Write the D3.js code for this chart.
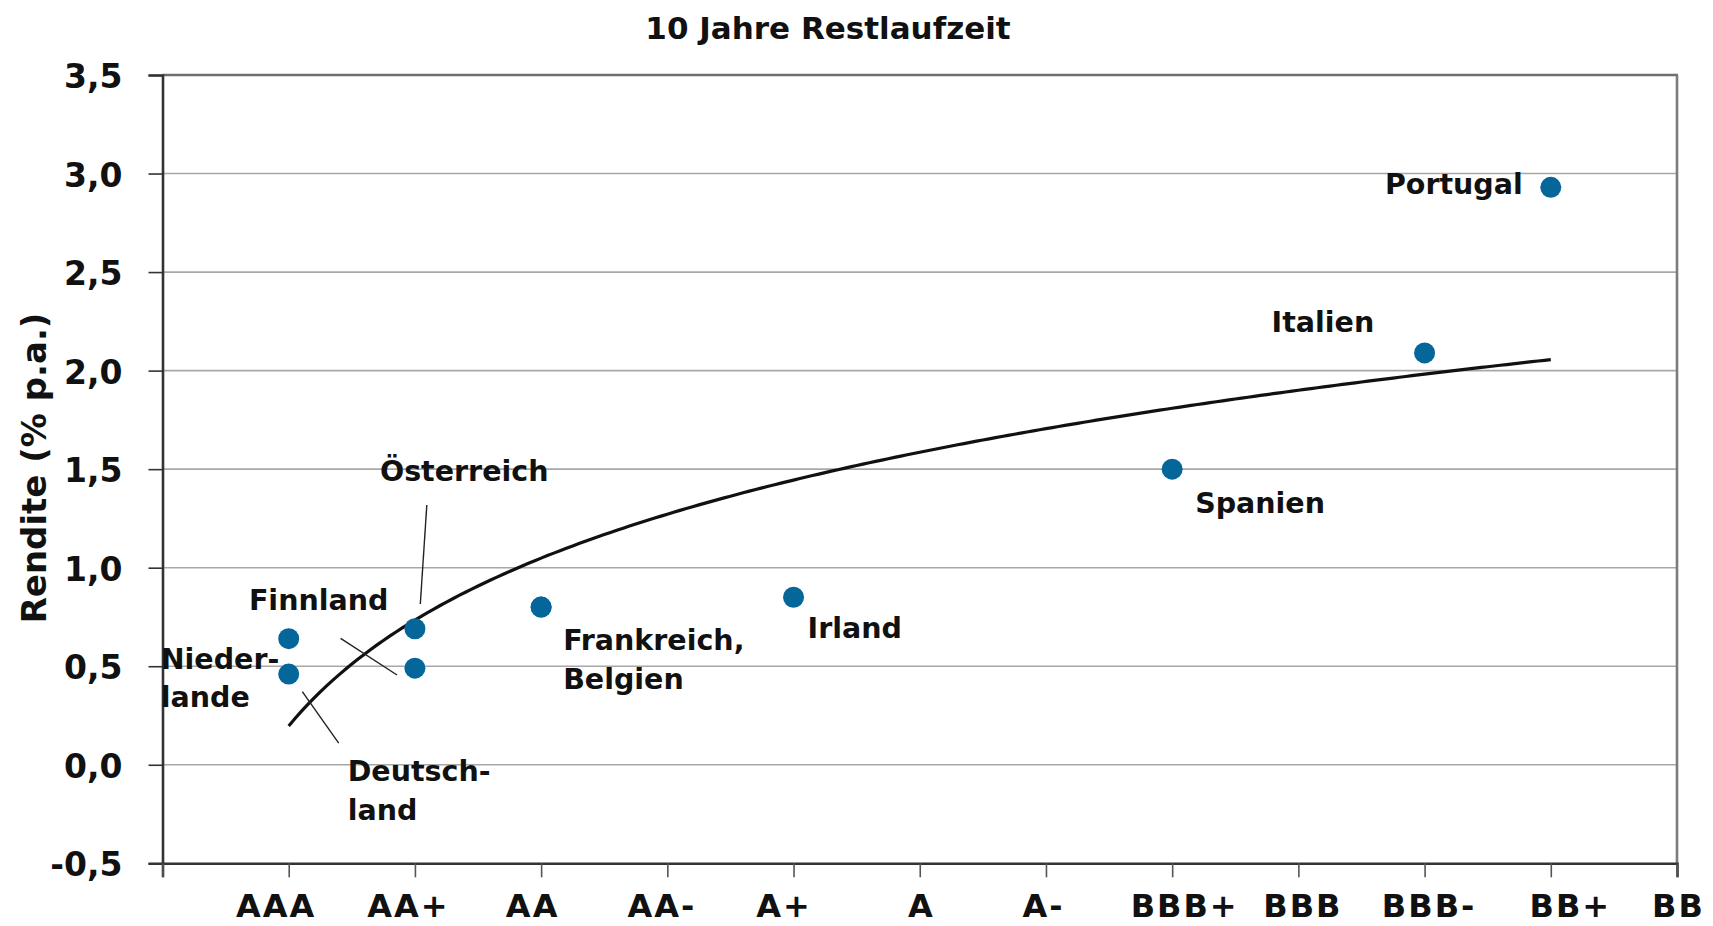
<!DOCTYPE html>
<html>
<head>
<meta charset="utf-8">
<script src="https://cdn.jsdelivr.net/npm/d3@7/dist/d3.min.js"></script>
<style>
  html, body { margin: 0; padding: 0; background: #fff; }
  svg text { font-family: "DejaVu Sans", sans-serif; font-weight: bold; fill: #111; }
</style>
</head>
<body>
<svg id="chart" width="1713" height="926"></svg>
<script>
// ---- data ----
const title = "10 Jahre Restlaufzeit";
const yAxisTitle = "Rendite (% p.a.)";
const ratingLabels = ["AAA", "AA+", "AA", "AA-", "A+", "A", "A-", "BBB+", "BBB", "BBB-", "BB+", "BB"];
const yTicks = [-0.5, 0.0, 0.5, 1.0, 1.5, 2.0, 2.5, 3.0, 3.5];
const countries = ["Niederlande", "Deutschland", "Finnland", "Österreich", "Frankreich", "Belgien", "Irland", "Spanien", "Italien", "Portugal"];
const countryRatings = ["AAA", "AAA", "AA+", "AA+", "AA", "AA", "A+", "BBB+", "BBB-", "BB+"];
const yields = [0.64, 0.46, 0.49, 0.69, 0.80, 0.80, 0.85, 1.50, 2.09, 2.93];
const labelLines = [["Nieder-", "lande"], ["Deutsch-", "land"], ["Finnland"], ["Österreich"], ["Frankreich,", "Belgien"], [], ["Irland"], ["Spanien"], ["Italien"], ["Portugal"]];

// ---- layout (pixel offsets relative to each point) ----
const labelLayout = [
  { dx: -128, dy: 30, anchor: "start" },
  { dx: 59, dy: 107, anchor: "start", leader: [13.6, 17.6, 50, 69] },
  { dx: -166, dy: -58, anchor: "start", leader: [-74.3, -29.9, -17.9, 6.8] },
  { dx: -35, dy: -148, anchor: "start", leader: [11.9, -123.8, 5.4, -24.8] },
  { dx: 22, dy: 43, anchor: "start" },
  null,
  { dx: 14, dy: 41, anchor: "start" },
  { dx: 23, dy: 44, anchor: "start" },
  { dx: -153, dy: -21, anchor: "start" },
  { dx: -28, dy: 7, anchor: "end" }
];
const xLabelNudge = [-13, -7, -9, -6, -10, 1, -3, 12, 4, 4, 19, 1];

const svg = d3.select("#chart");
const L = 162.5, R = 1677, T = 75, B = 863.3;

const x = d3.scaleLinear().domain([0, ratingLabels.length]).range([L, R]);
const y = d3.scaleLinear().domain([-0.5, 3.5]).range([B, T]);
const ratingIndex = r => ratingLabels.indexOf(r) + 1;

// title
svg.append("text").attr("x", 828).attr("y", 39).attr("text-anchor", "middle")
  .style("font-size", "31px").text(title);

// y axis title
svg.append("text").attr("transform", "translate(46,468) rotate(-90)")
  .attr("text-anchor", "middle").style("font-size", "34px").text(yAxisTitle);

// gridlines
svg.append("g").selectAll("line").data(yTicks.filter(v => v > -0.5 && v < 3.5)).join("line")
  .attr("x1", L).attr("x2", R).attr("y1", d => y(d)).attr("y2", d => y(d))
  .attr("stroke", "#a8a8a8").attr("stroke-width", 1.6);

// top and right border
svg.append("line").attr("x1", L).attr("x2", R + 1).attr("y1", y(3.5)).attr("y2", y(3.5))
  .attr("stroke", "#6e6e6e").attr("stroke-width", 2.6);
svg.append("line").attr("x1", R).attr("x2", R).attr("y1", y(3.5)).attr("y2", B)
  .attr("stroke", "#7c7c7c").attr("stroke-width", 2.6);

// y axis via d3
const yAxis = d3.axisLeft(y).tickValues(yTicks).tickSize(14).tickPadding(26)
  .tickFormat(d => d3.format(".1f")(d).replace(".", ",").replace("−", "-"));
const gy = svg.append("g").attr("transform", `translate(${L},0)`).call(yAxis);
gy.select(".domain").attr("stroke", "#333").attr("stroke-width", 2.6);
gy.selectAll(".tick line").attr("stroke", "#333").attr("stroke-width", 1.6);
gy.selectAll(".tick text").style("font-size", "33px").attr("dy", "0.38em").attr("fill", "#111")
  .style("font-family", "'DejaVu Sans', sans-serif").style("font-weight", "bold");

// x axis via d3
const xAxis = d3.axisBottom(x).tickValues(d3.range(0, ratingLabels.length + 1)).tickSize(14)
  .tickFormat(d => d === 0 ? "" : ratingLabels[d - 1]);
const gx = svg.append("g").attr("transform", `translate(0,${B})`).call(xAxis);
gx.select(".domain").attr("stroke", "#333").attr("stroke-width", 2.6);
gx.selectAll(".tick line").attr("stroke", "#555").attr("stroke-width", 1.6);
gx.selectAll(".tick text")
  .style("font-size", "32px").style("letter-spacing", "2px").attr("fill", "#111")
  .style("font-family", "'DejaVu Sans', sans-serif").style("font-weight", "bold")
  .attr("dy", 0)
  .attr("y", d => d === 0 ? 0 : 54)
  .attr("x", d => d === 0 ? 0 : xLabelNudge[d - 1]);

// logarithmic trend line (least squares on ln(x))
const xs = countryRatings.map(r => Math.log(ratingIndex(r)));
const mx = d3.mean(xs), my = d3.mean(yields);
const slope = d3.sum(xs, (v, i) => (v - mx) * (yields[i] - my)) / d3.sum(xs, v => (v - mx) * (v - mx));
const icpt = my - slope * mx;
const xMin = d3.min(countryRatings, ratingIndex), xMax = d3.max(countryRatings, ratingIndex);
const trendPts = d3.range(0, 201).map(i => xMin + (xMax - xMin) * i / 200);
svg.append("path")
  .attr("d", d3.line().x(d => x(d)).y(d => y(slope * Math.log(d) + icpt))(trendPts))
  .attr("fill", "none").attr("stroke", "#111").attr("stroke-width", 3.2);

// points
svg.append("g").selectAll("circle").data(countries).join("circle")
  .attr("cx", (d, i) => x(ratingIndex(countryRatings[i])))
  .attr("cy", (d, i) => y(yields[i]))
  .attr("r", 10.5).attr("fill", "#046699");

// labels and leader lines
countries.forEach((c, i) => {
  const lay = labelLayout[i];
  if (!lay) return;
  const px = x(ratingIndex(countryRatings[i])), py = y(yields[i]);
  if (lay.leader) {
    const [a, b, cc, dd] = lay.leader;
    svg.append("line").attr("x1", px + a).attr("y1", py + b).attr("x2", px + cc).attr("y2", py + dd)
      .attr("stroke", "#222").attr("stroke-width", 1.4);
  }
  labelLines[i].forEach((t, k) => {
    svg.append("text").attr("x", px + lay.dx).attr("y", py + lay.dy + k * 38.5)
      .attr("text-anchor", lay.anchor).style("font-size", "28.5px").text(t);
  });
});
</script>
</body>
</html>
